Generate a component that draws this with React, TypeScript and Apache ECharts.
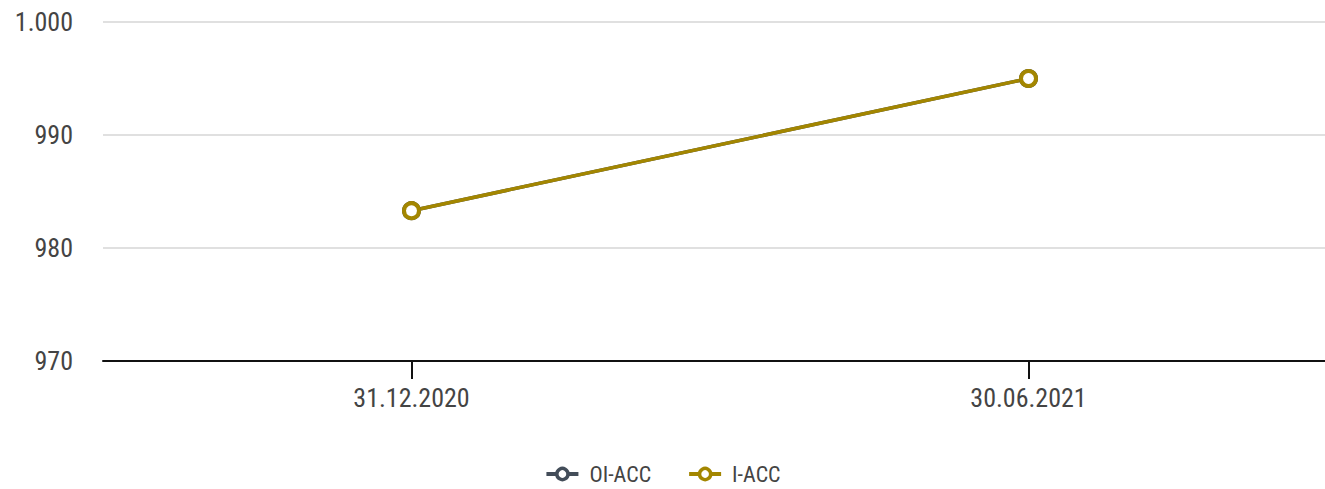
import React, { useEffect, useRef } from "react";
import * as echarts from "echarts";

const categories = ["31.12.2020", "30.06.2021"];
const oiAcc = [983.3, 995.0];
const iAcc = [983.3, 995.0];
const seriesNames = ["OI-ACC", "I-ACC"];
const colors = ["#434d59", "#a38600"];

const FONT = "'Roboto Condensed', 'Liberation Sans Narrow', Roboto, sans-serif";

export default function App() {
  const ref = useRef<HTMLDivElement>(null);
  useEffect(() => {
    if (!ref.current) return;
    const chart = echarts.init(ref.current, undefined, { renderer: "svg" });
    const mk = (name: string, data: number[], color: string) => ({
      name,
      type: "line",
      data,
      symbol: "circle",
      symbolSize: 15,
      color,
      lineStyle: { width: 3.5, color },
      itemStyle: { color: "#ffffff", borderColor: color, borderWidth: 4 },
    });
    chart.setOption({
      animation: false,
      textStyle: { fontFamily: FONT },
      legend: {
        bottom: -1,
        left: "center",
        itemWidth: 32,
        itemHeight: 14,
        itemGap: 36,
        itemStyle: { borderWidth: 3.5 },
        lineStyle: { width: 4 },
        textStyle: { fontSize: 22, color: "#444", fontFamily: FONT, padding: [0, 0, 0, 6] },
        data: seriesNames,
      },
      grid: { left: 103, top: 22, width: 1234, height: 339, outerBoundsMode: "none" },
      xAxis: {
        type: "category",
        data: categories,
        boundaryGap: true,
        axisLine: { lineStyle: { color: "#111", width: 2 } },
        axisTick: { show: true, alignWithLabel: true, length: 18, lineStyle: { color: "#111", width: 2 } },
        axisLabel: { fontSize: 26, color: "#444", margin: 24, fontFamily: FONT },
      },
      yAxis: {
        type: "value",
        min: 970,
        max: 1000,
        interval: 10,
        axisLine: { show: false },
        axisTick: { show: false },
        splitLine: { lineStyle: { color: "#e0e0e0", width: 2 } },
        axisLabel: {
          fontSize: 26,
          color: "#444",
          margin: 30,
          fontFamily: FONT,
          formatter: (v: number) => v.toLocaleString("de-DE"),
        },
      },
      series: [mk(seriesNames[0], oiAcc, colors[0]), mk(seriesNames[1], iAcc, colors[1])],
    });
    return () => chart.dispose();
  }, []);
  return <div ref={ref} style={{ position: "absolute", left: 0, top: 0, width: 1325, height: 489 }} />;
}
